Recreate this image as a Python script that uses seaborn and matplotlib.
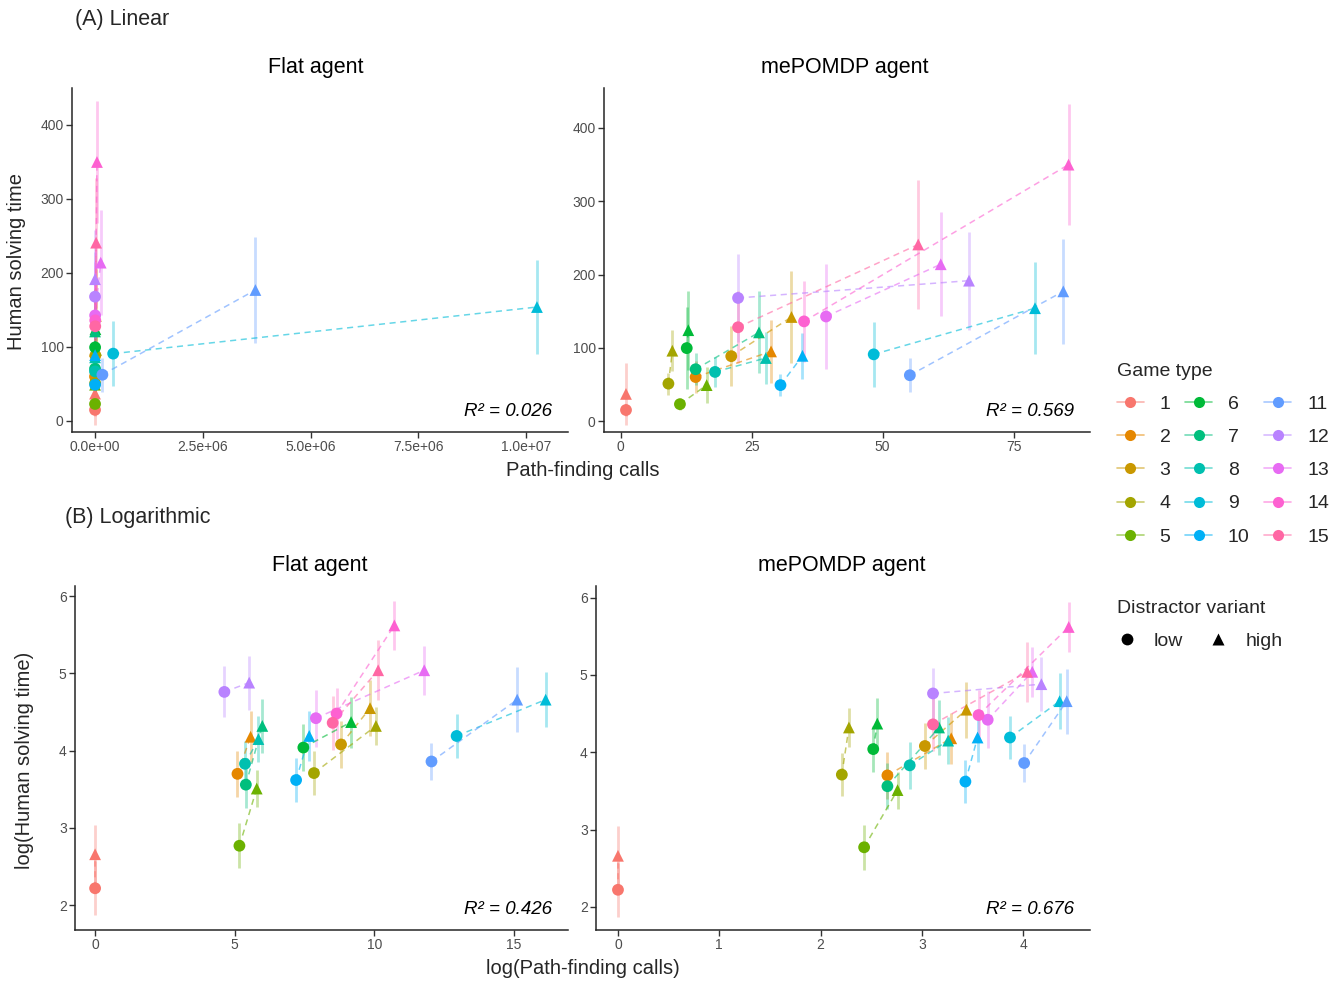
import numpy as np
import pandas as pd
import matplotlib
matplotlib.use("Agg")
import matplotlib.pyplot as plt
import seaborn as sns
from matplotlib.lines import Line2D
from matplotlib.colors import to_rgba
from matplotlib.ticker import FuncFormatter

# ---------------- data ----------------
game_types = [str(g) for g in range(1, 16)]
variants = ["low", "high"]
palette_hex = ["#F8766D", "#E58700", "#C99800", "#A3A500", "#6BB100",
               "#00BA38", "#00BF7D", "#00C0AF", "#00BCD8", "#00B0F6",
               "#619CFF", "#B983FF", "#E76BF3", "#FD61D1", "#FF67A4"]

# Linear: mean human solving time and error half-width (low / high distractor)
time_low = [15, 60, 88.5, 51, 23, 99.5, 70.7, 67, 91, 49, 62.5, 168, 142.7, 136, 128]
time_high = [37, 95, 142, 96, 49, 124, 121, 86, 154, 89, 177, 191.6, 214, 350, 241]
time_err_low = [8, 22, 41, 15, 8, 56, 22, 20, 44, 15, 23, 60, 72, 55, 49]
time_err_high = [42, 43, 63, 28, 25, 54, 56, 35, 63, 31, 72, 67, 71, 83, 88]

# Path-finding calls (linear)
flat_calls_low = [1, 164, 6700, 2540, 176, 1740, 221, 215, 421000, 1340, 171000, 102, 2720, 5700, 4960]
flat_calls_high = [1, 262, 18900, 23400, 327, 9600, 399, 347, 10250000, 2140, 3720000, 250, 132000, 45300, 25300]
me_calls_low = [1, 14.3, 21.1, 9.1, 11.3, 12.6, 14.3, 18.0, 48.3, 30.5, 55.2, 22.4, 39.2, 35.0, 22.4]
me_calls_high = [1, 28.7, 32.6, 9.85, 16.4, 12.9, 26.4, 27.7, 79.1, 34.7, 84.5, 66.5, 61.1, 85.5, 56.8]

# Logarithmic: mean log human solving time and error half-width
logtime_low = [2.22, 3.70, 4.08, 3.71, 2.77, 4.04, 3.56, 3.83, 4.19, 3.62, 3.86, 4.76, 4.42, 4.48, 4.36]
logtime_high = [2.66, 4.18, 4.55, 4.32, 3.51, 4.37, 4.32, 4.15, 4.66, 4.19, 4.66, 4.88, 5.04, 5.62, 5.04]
logtime_err_low = [0.35, 0.30, 0.30, 0.28, 0.29, 0.30, 0.30, 0.30, 0.28, 0.28, 0.24, 0.33, 0.37, 0.33, 0.35]
logtime_err_high = [0.38, 0.33, 0.36, 0.25, 0.24, 0.33, 0.35, 0.30, 0.36, 0.32, 0.42, 0.35, 0.32, 0.32, 0.39]

# log(Path-finding calls)
logflat_low = [0, 5.10, 8.81, 7.84, 5.17, 7.46, 5.40, 5.37, 12.95, 7.20, 12.05, 4.63, 7.91, 8.65, 8.51]
logflat_high = [0, 5.57, 9.85, 10.06, 5.79, 9.17, 5.99, 5.85, 16.14, 7.67, 15.12, 5.52, 11.79, 10.72, 10.14]
logme_low = [0, 2.66, 3.03, 2.21, 2.43, 2.52, 2.66, 2.88, 3.87, 3.43, 4.01, 3.11, 3.65, 3.56, 3.11]
logme_high = [0, 3.29, 3.44, 2.28, 2.76, 2.56, 3.17, 3.26, 4.36, 3.55, 4.43, 4.18, 4.09, 4.45, 4.04]

r2_values = ["0.026", "0.569", "0.426", "0.676"]

# ---------------- frame ----------------
rows = []
for i, g in enumerate(game_types):
    rows.append(dict(game=g, variant="low", time=time_low[i], time_err=time_err_low[i],
                     flat=flat_calls_low[i], me=me_calls_low[i],
                     logtime=logtime_low[i], logtime_err=logtime_err_low[i],
                     logflat=logflat_low[i], logme=logme_low[i]))
    rows.append(dict(game=g, variant="high", time=time_high[i], time_err=time_err_high[i],
                     flat=flat_calls_high[i], me=me_calls_high[i],
                     logtime=logtime_high[i], logtime_err=logtime_err_high[i],
                     logflat=logflat_high[i], logme=logme_high[i]))
df = pd.DataFrame(rows)
pal = dict(zip(game_types, palette_hex))

# ---------------- style ----------------
sns.set_theme(style="ticks")
plt.rcParams["font.family"] = ["Liberation Sans", "DejaVu Sans"]
plt.rcParams["axes.linewidth"] = 1.1

W, H = 1336, 984
fig = plt.figure(figsize=(W / 100, H / 100), dpi=100)


def add_ax(l, t, r, b):
    return fig.add_axes([l / W, 1 - b / H, (r - l) / W, (b - t) / H])


ax_tl = add_ax(72, 88, 568, 432)
ax_tr = add_ax(604, 88, 1090, 432)
ax_bl = add_ax(75, 586, 568, 930)
ax_br = add_ax(596, 586, 1090, 930)


def panel(ax, xcol, ycol, ecol, r2):
    cols = [pal[g] for g in df["game"]]
    ax.vlines(df[xcol], df[ycol] - df[ecol], df[ycol] + df[ecol],
              colors=cols, lw=2.0, alpha=0.35, zorder=1)
    sns.lineplot(data=df, x=xcol, y=ycol, hue="game", hue_order=game_types,
                 palette=pal, estimator=None, sort=False, linestyle=(0, (4, 3)),
                 lw=1.1, alpha=0.6, legend=False, ax=ax, zorder=2)
    sns.scatterplot(data=df, x=xcol, y=ycol, hue="game", hue_order=game_types,
                    style="variant", style_order=variants,
                    markers={"low": "o", "high": "^"}, palette=pal, s=72,
                    edgecolor="none", linewidth=0, legend=False, ax=ax, zorder=3)
    ax.set_xlabel("")
    ax.set_ylabel("")
    ax.text(0.968, 0.035, "R² = " + r2, transform=ax.transAxes, ha="right",
            va="bottom", style="italic", fontsize=13.5, color="black")
    sns.despine(ax=ax)
    ax.tick_params(direction="out", length=4, width=1.0, color="#333333",
                   labelcolor="#4D4D4D", labelsize=10, pad=2)


panel(ax_tl, "flat", "time", "time_err", r2_values[0])
panel(ax_tr, "me", "time", "time_err", r2_values[1])
panel(ax_bl, "logflat", "logtime", "logtime_err", r2_values[2])
panel(ax_br, "logme", "logtime", "logtime_err", r2_values[3])

ax_tl.set_xlim(-0.534e6, 10.97e6)
ax_tl.set_ylim(-14.9, 450)
ax_tl.set_xticks([0, 2.5e6, 5e6, 7.5e6, 1e7])
ax_tl.xaxis.set_major_formatter(FuncFormatter(lambda v, p: "%.1e" % v))
ax_tl.set_yticks([0, 100, 200, 300, 400])

ax_tr.set_xlim(-3.2, 89.6)
ax_tr.set_ylim(-15, 454.6)
ax_tr.set_xticks([0, 25, 50, 75])
ax_tr.set_yticks([0, 100, 200, 300, 400])

ax_bl.set_xlim(-0.72, 16.94)
ax_bl.set_ylim(1.68, 6.13)
ax_bl.set_xticks([0, 5, 10, 15])
ax_bl.set_yticks([2, 3, 4, 5, 6])

ax_br.set_xlim(-0.217, 4.66)
ax_br.set_ylim(1.70, 6.15)
ax_br.set_xticks([0, 1, 2, 3, 4])
ax_br.set_yticks([2, 3, 4, 5, 6])

# titles
title_kw = dict(ha="center", va="center", fontsize=15.5, color="black")
fig.text(316 / W, 1 - 68 / H, "Flat agent", **title_kw)
fig.text(845 / W, 1 - 68 / H, "mePOMDP agent", **title_kw)
fig.text(320 / W, 1 - 565 / H, "Flat agent", **title_kw)
fig.text(842 / W, 1 - 565 / H, "mePOMDP agent", **title_kw)

fig.text(75 / W, 1 - 19 / H, "(A) Linear", ha="left", va="center", fontsize=15.5)
fig.text(65 / W, 1 - 517 / H, "(B) Logarithmic", ha="left", va="center", fontsize=15.5)

fig.text(583 / W, 1 - 470 / H, "Path-finding calls", ha="center", va="center", fontsize=14.5)
fig.text(583 / W, 1 - 969 / H, "log(Path-finding calls)", ha="center", va="center", fontsize=14.5)
fig.text(17 / W, 1 - 262 / H, "Human solving time", ha="center", va="center",
         rotation=90, fontsize=14.5)
fig.text(25 / W, 1 - 760 / H, "log(Human solving time)", ha="center", va="center",
         rotation=90, fontsize=14.5)

# legends
game_handles = [Line2D([0], [0], color=to_rgba(pal[g], 0.55), lw=1.2, marker="o",
                       markersize=8, markerfacecolor=pal[g], markeredgecolor="none")
                for g in game_types]
leg1 = fig.legend(game_handles, game_types, title="Game type", ncol=3,
                  loc="upper left", bbox_to_anchor=(1109 / W, 1 - 355 / H),
                  frameon=False, fontsize=14, title_fontsize=14,
                  handlelength=1.4, handletextpad=0.8, columnspacing=0.75,
                  labelspacing=0.8, alignment="left", borderaxespad=0)

var_handles = [Line2D([0], [0], color="black", lw=0, marker=m, markersize=8.5,
                      markeredgecolor="none") for m in ["o", "^"]]
leg2 = fig.legend(var_handles, variants, title="Distractor variant", ncol=2,
                  loc="upper left", bbox_to_anchor=(1109 / W, 1 - 592 / H),
                  frameon=False, fontsize=14, title_fontsize=14,
                  handlelength=1.0, handletextpad=0.9, columnspacing=1.3,
                  labelspacing=0.8, alignment="left", borderaxespad=0)

fig.savefig("out.png", dpi=100)
